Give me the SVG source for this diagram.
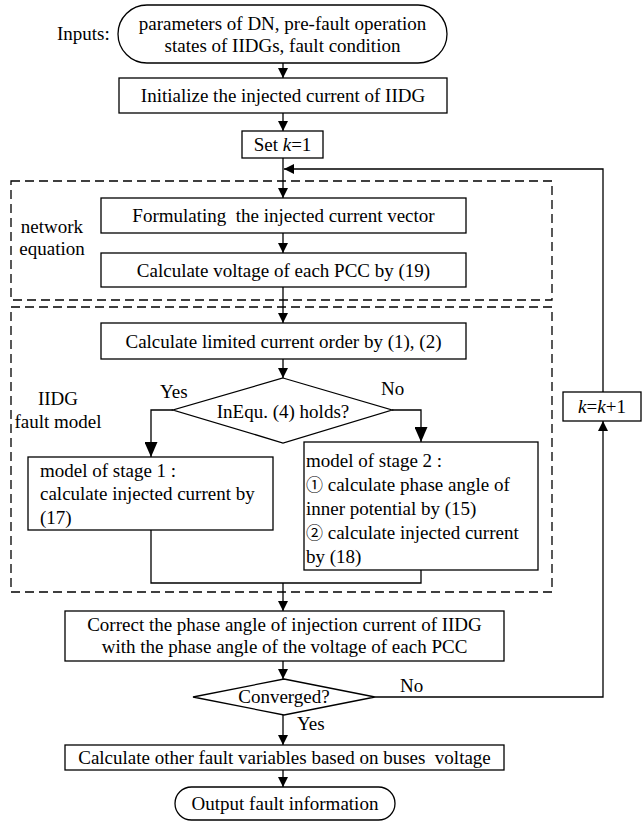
<svg xmlns="http://www.w3.org/2000/svg" width="642" height="821" viewBox="0 0 642 821">
<style>
.box{fill:#fff;stroke:#000;stroke-width:1.3}
.dash{fill:none;stroke:#000;stroke-width:1.3;stroke-dasharray:9 5}
.ln{fill:none;stroke:#000;stroke-width:1.3}
.t{font-family:'Liberation Serif',serif;font-size:19px;fill:#000}
.c{text-anchor:middle}
.i{font-style:italic}
.cj{font-family:'Noto Sans CJK SC',sans-serif;font-size:17px}
</style>
<defs>
<marker id="ah" viewBox="0 0 10 10" refX="10" refY="5" markerWidth="10" markerHeight="10" markerUnits="userSpaceOnUse" orient="auto"><path d="M0,0 L10,5 L0,10 z" fill="#000"/></marker>
<marker id="ahL" viewBox="0 0 15 13" refX="15" refY="6.5" markerWidth="15" markerHeight="13" markerUnits="userSpaceOnUse" orient="auto"><path d="M0,0 L15,6.5 L0,13 z" fill="#000"/></marker>
</defs>

<g id="groups">
<rect class="dash" x="11" y="181" width="541" height="119"/>
<text class="t c" x="52" y="233">network</text>
<text class="t c" x="52" y="255">equation</text>
<rect class="dash" x="11" y="307" width="541" height="285"/>
<text class="t c" x="58" y="405">IIDG</text>
<text class="t c" x="58" y="428">fault model</text>
</g>

<g id="connectors">
<path class="ln" d="M283,63 V78" marker-end="url(#ah)"/>
<path class="ln" d="M283,113 V131" marker-end="url(#ah)"/>
<path class="ln" d="M283,158 V198" marker-end="url(#ah)"/>
<path class="ln" d="M283,233 V253" marker-end="url(#ah)"/>
<path class="ln" d="M283,287 V323" marker-end="url(#ah)"/>
<path class="ln" d="M283,359 V378" marker-end="url(#ah)"/>
<path class="ln" d="M173,410 H151 V457" marker-end="url(#ahL)"/>
<path class="ln" d="M392,410 H421 V442" marker-end="url(#ahL)"/>
<path class="ln" d="M151,530 V583 H421 V570"/>
<path class="ln" d="M283,583 V611" marker-end="url(#ah)"/>
<path class="ln" d="M283,661 V679" marker-end="url(#ah)"/>
<path class="ln" d="M283,715 V745" marker-end="url(#ah)"/>
<path class="ln" d="M283,770 V787" marker-end="url(#ah)"/>
<path class="ln" d="M375,697 H603 V421" marker-end="url(#ah)"/>
<path class="ln" d="M603,392 V169 H284" marker-end="url(#ah)"/>
<text class="t" x="160" y="398">Yes</text>
<text class="t" x="381" y="395">No</text>
<text class="t" x="400" y="692">No</text>
<text class="t" x="297" y="730">Yes</text>
</g>

<g id="inputs">
<text class="t" x="57" y="40">Inputs:</text>
<rect class="box" x="118" y="5" width="329" height="58" rx="29" ry="29"/>
<text class="t c" x="282.5" y="30">parameters of DN, pre-fault operation</text>
<text class="t c" x="282.5" y="52">states of IIDGs, fault condition</text>
</g>

<g id="init">
<rect class="box" x="119" y="78" width="328" height="35"/>
<text class="t c" x="283" y="102">Initialize the injected current of IIDG</text>
</g>

<g id="setk">
<rect class="box" x="242" y="131" width="81" height="27"/>
<text class="t c" x="282.5" y="151">Set <tspan class="i">k</tspan>=1</text>
</g>

<g id="formulate">
<rect class="box" x="101" y="198" width="365" height="35"/>
<text class="t c" x="283.5" y="222" xml:space="preserve">Formulating  the injected current vector</text>
</g>

<g id="voltage">
<rect class="box" x="101" y="253" width="365" height="34"/>
<text class="t c" x="283.5" y="277">Calculate voltage of each PCC by (19)</text>
</g>

<g id="limited">
<rect class="box" x="101" y="323" width="365" height="36"/>
<text class="t c" x="283.5" y="348">Calculate limited current order by (1), (2)</text>
</g>

<g id="inequ">
<polygon class="box" points="283,378 392,410 283,443 173,410"/>
<text class="t c" x="283" y="418">InEqu. (4) holds?</text>
</g>

<g id="stage1">
<rect class="box" x="28" y="457" width="245" height="73"/>
<text class="t" x="40" y="477">model of stage 1 :</text>
<text class="t" x="40" y="500">calculate injected current by</text>
<text class="t" x="40" y="524">(17)</text>
</g>

<g id="stage2">
<rect class="box" x="304" y="442" width="234" height="128"/>
<text class="t" x="306" y="467">model of stage 2 :</text>
<text class="t" x="306" y="491"><tspan class="cj">①</tspan> calculate phase angle of</text>
<text class="t" x="306" y="515">inner potential by (15)</text>
<text class="t" x="306" y="539"><tspan class="cj">②</tspan> calculate injected current</text>
<text class="t" x="306" y="563">by (18)</text>
</g>

<g id="kinc">
<rect class="box" x="563" y="392" width="78" height="29"/>
<text class="t c" x="602" y="413"><tspan class="i">k</tspan>=<tspan class="i">k</tspan>+1</text>
</g>

<g id="correct">
<rect class="box" x="65" y="611" width="439" height="50"/>
<text class="t c" x="284.5" y="631">Correct the phase angle of injection current of IIDG</text>
<text class="t c" x="284.5" y="653">with the phase angle of the voltage of each PCC</text>
</g>

<g id="converged">
<polygon class="box" points="284,679 375,697 284,715 193,697"/>
<text class="t c" x="284" y="703">Converged?</text>
</g>

<g id="other">
<rect class="box" x="65" y="745" width="439" height="25"/>
<text class="t c" x="284.5" y="764" xml:space="preserve">Calculate other fault variables based on buses  voltage</text>
</g>

<g id="output">
<rect class="box" x="175" y="787" width="220" height="33" rx="16.5" ry="16.5"/>
<text class="t c" x="285" y="810">Output fault information</text>
</g>
</svg>
